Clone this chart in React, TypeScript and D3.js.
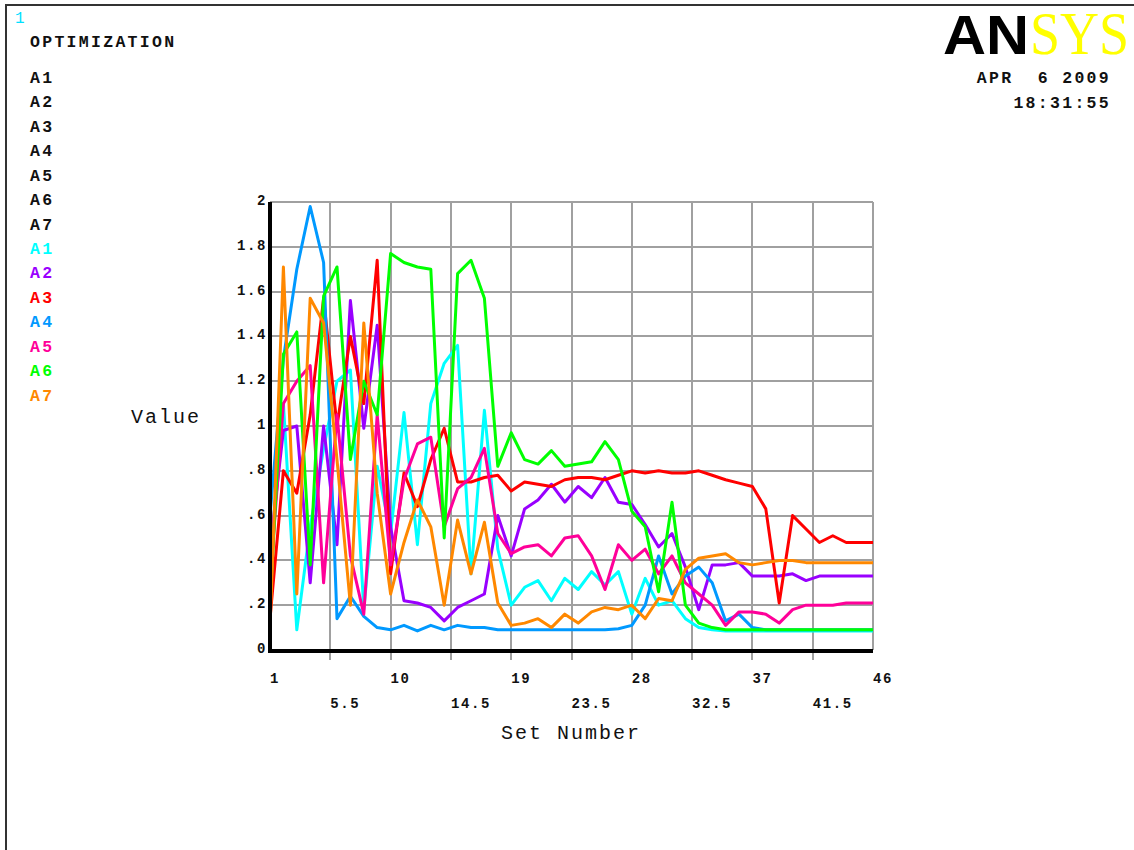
import React from "react";
import * as d3 from "d3";

// Set numbers 1..46
const setNumbers: number[] = d3.range(1, 47);

// Design variable histories (one value per set)
const a1: number[] = [0.4, 1.1, 0.09, 0.55, 0.9, 1.2, 1.25, 0.18, 0.82, 0.52, 1.06, 0.47, 1.1, 1.28, 1.36, 0.34, 1.07, 0.45, 0.2, 0.28, 0.31, 0.22, 0.32, 0.27, 0.35, 0.29, 0.35, 0.16, 0.32, 0.2, 0.22, 0.14, 0.1, 0.09, 0.085, 0.085, 0.085, 0.085, 0.085, 0.085, 0.085, 0.085, 0.085, 0.085, 0.085, 0.085];
const a2: number[] = [0.45, 0.98, 1.0, 0.3, 1.0, 0.47, 1.56, 0.99, 1.45, 0.55, 0.22, 0.21, 0.19, 0.13, 0.19, 0.22, 0.25, 0.6, 0.42, 0.63, 0.67, 0.74, 0.66, 0.73, 0.68, 0.77, 0.66, 0.65, 0.56, 0.46, 0.52, 0.37, 0.18, 0.38, 0.38, 0.39, 0.33, 0.33, 0.33, 0.34, 0.31, 0.33, 0.33, 0.33, 0.33, 0.33];
const a3: number[] = [0.14, 0.8, 0.7, 1.05, 1.57, 1.0, 1.4, 1.1, 1.74, 0.34, 0.79, 0.64, 0.85, 0.99, 0.75, 0.75, 0.77, 0.78, 0.71, 0.75, 0.74, 0.73, 0.76, 0.77, 0.77, 0.76, 0.78, 0.8, 0.79, 0.8, 0.79, 0.79, 0.8, 0.78, 0.76, 0.745, 0.73, 0.63, 0.21, 0.6, 0.54, 0.48, 0.51, 0.48, 0.48, 0.48];
const a4: number[] = [0.6, 1.3, 1.7, 1.98, 1.73, 0.14, 0.24, 0.15, 0.1, 0.09, 0.11, 0.085, 0.11, 0.09, 0.11, 0.1, 0.1, 0.09, 0.09, 0.09, 0.09, 0.09, 0.09, 0.09, 0.09, 0.09, 0.095, 0.11, 0.2, 0.42, 0.25, 0.33, 0.37, 0.3, 0.13, 0.16, 0.1, 0.09, 0.09, 0.09, 0.09, 0.09, 0.09, 0.09, 0.09, 0.09];
const a5: number[] = [0.3, 1.1, 1.2, 1.27, 0.3, 1.05, 0.42, 0.16, 1.05, 0.38, 0.76, 0.92, 0.95, 0.55, 0.72, 0.77, 0.9, 0.52, 0.43, 0.46, 0.47, 0.42, 0.5, 0.51, 0.42, 0.27, 0.47, 0.4, 0.45, 0.34, 0.42, 0.3, 0.25, 0.2, 0.11, 0.17, 0.17, 0.16, 0.12, 0.18, 0.2, 0.2, 0.2, 0.21, 0.21, 0.21];
const a6: number[] = [0.2, 1.32, 1.42, 0.38, 1.58, 1.71, 0.85, 1.2, 1.05, 1.77, 1.73, 1.71, 1.7, 0.5, 1.68, 1.74, 1.57, 0.82, 0.97, 0.85, 0.83, 0.89, 0.82, 0.83, 0.84, 0.93, 0.85, 0.62, 0.55, 0.26, 0.66, 0.2, 0.12, 0.1, 0.09, 0.09, 0.09, 0.09, 0.09, 0.09, 0.09, 0.09, 0.09, 0.09, 0.09, 0.09];
const a7: number[] = [0.1, 1.71, 0.25, 1.57, 1.46, 0.85, 0.2, 1.46, 0.7, 0.25, 0.48, 0.67, 0.55, 0.2, 0.58, 0.34, 0.57, 0.21, 0.11, 0.12, 0.14, 0.1, 0.16, 0.12, 0.17, 0.19, 0.18, 0.2, 0.14, 0.23, 0.22, 0.36, 0.41, 0.42, 0.43, 0.39, 0.38, 0.39, 0.4, 0.4, 0.39, 0.39, 0.39, 0.39, 0.39, 0.39];

const seriesNames: string[] = ["A1", "A2", "A3", "A4", "A5", "A6", "A7"];
const seriesColors: string[] = ["#00ffff", "#9900ff", "#ff0000", "#0099ff", "#ff0099", "#00ff00", "#ff8800"];
const seriesValues: number[][] = [a1, a2, a3, a4, a5, a6, a7];

// Axis ticks
const xTicks: number[] = [1, 5.5, 10, 14.5, 19, 23.5, 28, 32.5, 37, 41.5, 46];
const xTickLabels: string[] = ["1", "5.5", "10", "14.5", "19", "23.5", "28", "32.5", "37", "41.5", "46"];
const yTicks: number[] = [0, 0.2, 0.4, 0.6, 0.8, 1, 1.2, 1.4, 1.6, 1.8, 2];
const yTickLabels: string[] = ["0", ".2", ".4", ".6", ".8", "1", "1.2", "1.4", "1.6", "1.8", "2"];

const W = 1134;
const H = 850;
const plot = { left: 270, right: 873, top: 202, bottom: 650 };

const mono = "'Liberation Mono', 'Courier New', monospace";

export default function App() {
  const x = d3.scaleLinear().domain([1, 46]).range([plot.left, plot.right]);
  const y = d3.scaleLinear().domain([0, 2]).range([plot.bottom, plot.top]);
  const line = d3
    .line<number>()
    .x((_, i) => x(setNumbers[i]))
    .y((v) => y(v));

  const legendTop = 77;
  const legendStep = 24.46;

  return (
    <svg
      width={W}
      height={H}
      style={{ position: "absolute", left: 0, top: 0, background: "#fff" }}
    >
      <rect x={0} y={0} width={W} height={H} fill="#fff" />
      {/* window frame */}
      <rect x={6} y={5} width={W + 10} height={H + 10} fill="none" stroke="#333" strokeWidth={2} />

      {/* window number */}
      <text x={15} y={23} fill="#00e0ff" fontFamily={mono} fontSize={16}>1</text>

      {/* title and legend */}
      <text x={30} y={41} dy="0.35em" fontFamily={mono} fontWeight="bold" fontSize={16.5} letterSpacing={2.3} fill="#111">
        OPTIMIZATION
      </text>
      {seriesNames.map((n, i) => (
        <text key={"k" + i} x={30} y={legendTop + i * legendStep} dy="0.35em" fontFamily={mono} fontWeight="bold" fontSize={16.5} letterSpacing={2.3} fill="#111">
          {n}
        </text>
      ))}
      {seriesNames.map((n, i) => (
        <text key={"c" + i} x={30} y={legendTop + (i + 7) * legendStep} dy="0.35em" fontFamily={mono} fontWeight="bold" fontSize={16.5} letterSpacing={2.3} fill={seriesColors[i]}>
          {n}
        </text>
      ))}

      {/* logo */}
      <text x={943} y={54} fontFamily="'Liberation Sans', Arial, sans-serif" fontWeight="bold" fontSize={56} textLength={86} lengthAdjust="spacingAndGlyphs" fill="#000">
        AN
      </text>
      <text transform="translate(1030,54) scale(1,1.12)" fontFamily="'Liberation Serif', 'Times New Roman', serif" fontSize={54} fill="#ffff00">
        SYS
      </text>

      {/* date and time */}
      <text x={1111} y={77} dy="0.35em" textAnchor="end" fontFamily={mono} fontWeight="bold" fontSize={16.5} letterSpacing={2.3} fill="#111" style={{ whiteSpace: "pre" }}>
        {"APR  6 2009"}
      </text>
      <text x={1111} y={102} dy="0.35em" textAnchor="end" fontFamily={mono} fontWeight="bold" fontSize={16.5} letterSpacing={2.3} fill="#111">
        18:31:55
      </text>

      {/* grid */}
      <g stroke="#a0a0a0" strokeWidth={2} shapeRendering="crispEdges">
        {yTicks.map((t) => (
          <line key={"gy" + t} x1={plot.left} x2={plot.right} y1={y(t)} y2={y(t)} />
        ))}
        {xTicks.map((t, i) => (
          <line
            key={"gx" + t}
            x1={x(t)}
            x2={x(t)}
            y1={plot.top}
            y2={i === 0 || i === xTicks.length - 1 ? plot.bottom : plot.bottom + 10}
          />
        ))}
      </g>

      {/* series */}
      <g fill="none" strokeWidth={3} strokeLinejoin="round">
        {seriesValues.map((vals, i) => (
          <path key={"s" + i} d={line(vals) || ""} stroke={seriesColors[i]} />
        ))}
      </g>

      {/* axes */}
      <line x1={plot.left} x2={plot.left} y1={plot.top} y2={plot.bottom + 2} stroke="#000" strokeWidth={4} />
      <line x1={plot.left - 2} x2={plot.right} y1={plot.bottom + 1} y2={plot.bottom + 1} stroke="#000" strokeWidth={4} />

      {/* y tick labels */}
      {yTicks.map((t, i) => (
        <text key={"ly" + t} x={267} y={y(t) - 2} dy="0.35em" textAnchor="end" fontFamily={mono} fontWeight="bold" fontSize={14} letterSpacing={1.6} fill="#111">
          {yTickLabels[i]}
        </text>
      ))}

      {/* x tick labels, alternating rows */}
      {xTicks.map((t, i) => (
        <text key={"lx" + t} x={x(t)} y={i % 2 === 0 ? 678 : 703} dy="0.35em" fontFamily={mono} fontWeight="bold" fontSize={14} letterSpacing={1.6} fill="#111">
          {xTickLabels[i]}
        </text>
      ))}

      {/* axis titles */}
      <text x={571} y={732} dy="0.35em" textAnchor="middle" fontFamily={mono} fontSize={20} letterSpacing={2} fill="#111">
        Set Number
      </text>
      <text x={131} y={416} dy="0.35em" fontFamily={mono} fontSize={20} letterSpacing={2} fill="#111">
        Value
      </text>
    </svg>
  );
}
